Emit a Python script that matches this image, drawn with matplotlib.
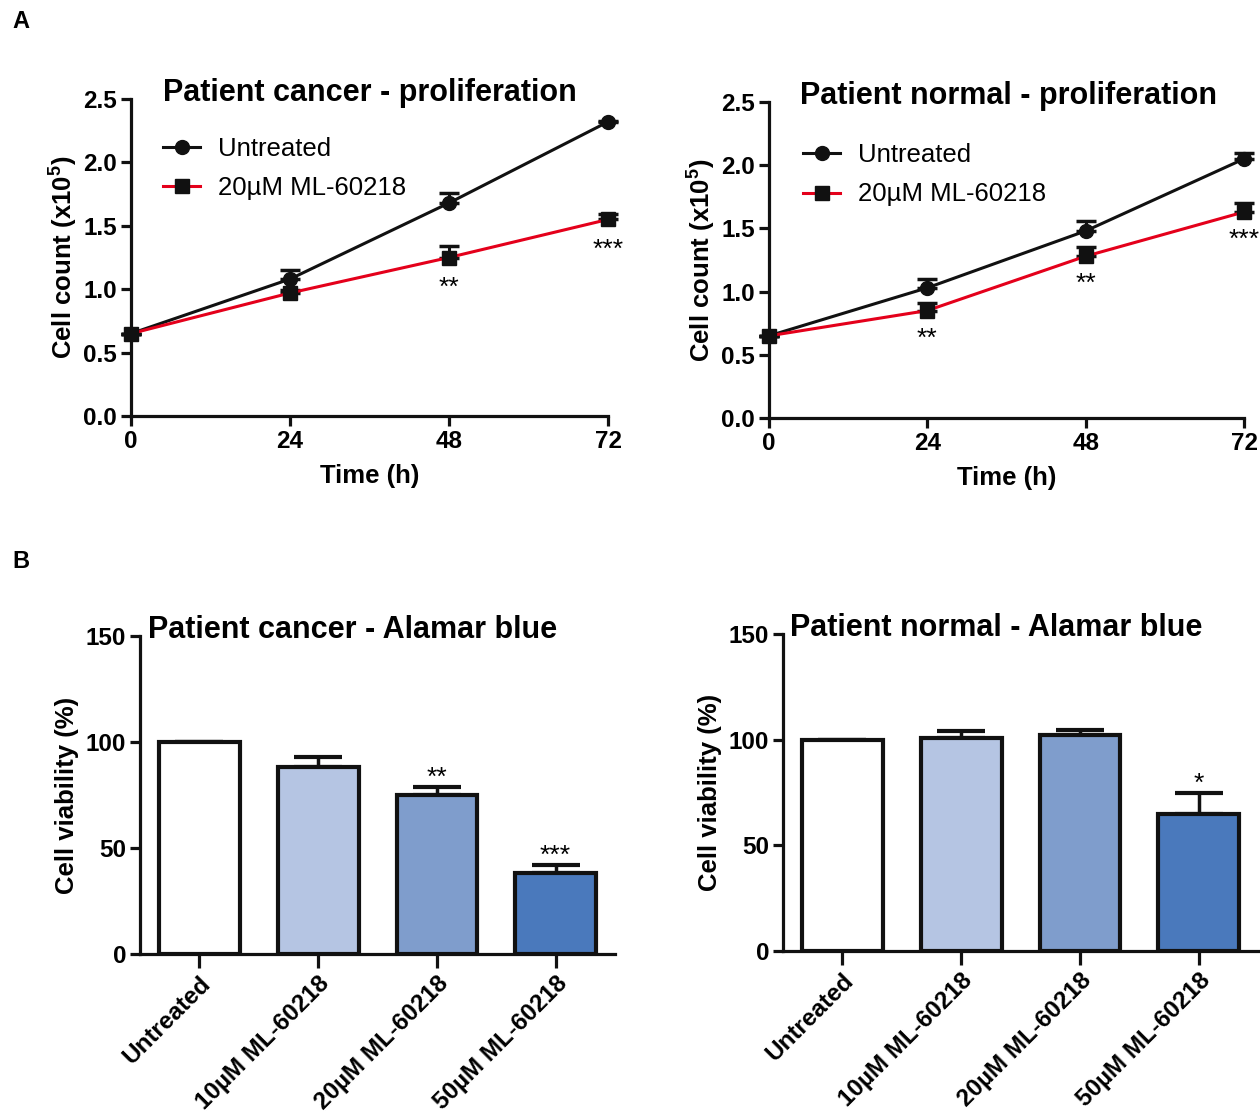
import matplotlib
matplotlib.use("Agg")
import matplotlib.pyplot as plt
from matplotlib.lines import Line2D
import numpy as np

plt.rcParams['font.family'] = ['Liberation Sans', 'DejaVu Sans']
plt.rcParams['mathtext.fontset'] = 'custom'
plt.rcParams['mathtext.rm'] = 'Liberation Sans'
plt.rcParams['mathtext.bf'] = 'Liberation Sans:bold'

# ---------------- data ----------------
time_h = [0, 24, 48, 72]
series_names = ["Untreated", "20\u00b5M ML-60218"]

cancer_untreated = [0.65, 1.08, 1.68, 2.32]
cancer_untreated_err = [0.0, 0.07, 0.08, 0.01]
cancer_treated = [0.65, 0.97, 1.25, 1.55]
cancer_treated_err = [0.0, 0.02, 0.09, 0.04]
cancer_stars = {48: "**", 72: "***"}

normal_untreated = [0.65, 1.03, 1.48, 2.05]
normal_untreated_err = [0.0, 0.07, 0.08, 0.05]
normal_treated = [0.65, 0.85, 1.28, 1.63]
normal_treated_err = [0.0, 0.06, 0.07, 0.07]
normal_stars = {24: "**", 48: "**", 72: "***"}

bar_labels = ["Untreated", "10\u00b5M ML-60218", "20\u00b5M ML-60218", "50\u00b5M ML-60218"]
cancer_viab = [100, 88, 75, 38]
cancer_viab_err = [0, 5, 4, 4]
cancer_viab_stars = ["", "", "**", "***"]
normal_viab = [100, 101, 102, 65]
normal_viab_err = [0, 3, 2.5, 10]
normal_viab_stars = ["", "", "", "*"]

bar_colors = ["#ffffff", "#b5c5e3", "#7f9dcc", "#4a79bc"]
line_colors = ["#111111", "#e4001b"]

W, H = 1260, 1113
fig = plt.figure(figsize=(W / 100, H / 100), dpi=100)

def px_axes(x0, x1, ytop, ybot):
    return fig.add_axes([x0 / W, 1 - ybot / H, (x1 - x0) / W, (ybot - ytop) / H])

def style(ax):
    for s in ['top', 'right']:
        ax.spines[s].set_visible(False)
    for s in ['left', 'bottom']:
        ax.spines[s].set_linewidth(2.3)
        ax.spines[s].set_color('#111111')
    ax.tick_params(width=2.3, length=7, color='#111111', labelsize=17.5, pad=3)
    for lab in ax.get_xticklabels() + ax.get_yticklabels():
        lab.set_fontweight('bold')

def line_panel(ax, title, unt, unt_e, trt, trt_e, stars, star_off, title_x, leg_anchor):
    ax.errorbar(time_h, unt, yerr=[np.zeros(4), unt_e], fmt='none', ecolor='#111111',
                capsize=7, capthick=2.5, elinewidth=2.2, zorder=2, clip_on=False)
    ax.plot(time_h, unt, color=line_colors[0], lw=2.2, marker='o', ms=10,
            zorder=3, clip_on=False)
    ax.errorbar(time_h, trt, yerr=[np.zeros(4), trt_e], fmt='none', ecolor='#111111',
                capsize=7, capthick=2.5, elinewidth=2.2, zorder=2, clip_on=False)
    ax.plot(time_h, trt, color=line_colors[1], lw=2.2, marker='s', ms=10,
            mfc='#111111', mec='#111111', zorder=4, clip_on=False)
    ax.set_xlim(0, 72)
    ax.set_ylim(0, 2.5)
    ax.set_xticks(time_h)
    ax.set_yticks([0.0, 0.5, 1.0, 1.5, 2.0, 2.5])
    ax.set_yticklabels(["0.0", "0.5", "1.0", "1.5", "2.0", "2.5"])
    style(ax)
    ax.set_xlabel("Time (h)", fontsize=18.5, fontweight='bold', labelpad=8)
    ax.set_ylabel(r"Cell count (x10$^{\mathbf{5}}$)", fontsize=18.5, fontweight='bold', labelpad=3)
    ax.text(title_x, 0.994, title, transform=ax.transAxes, fontsize=22, fontweight='bold',
            ha='left', va='baseline')
    for (t, s) in stars.items():
        i = time_h.index(t)
        ax.text(t, trt[i] - star_off, s, ha='center', va='center', fontsize=19, clip_on=False)
    handles = [
        Line2D([], [], color=line_colors[0], lw=2.2, marker='o', ms=10),
        Line2D([], [], color=line_colors[1], lw=2.2, marker='s', ms=10, mfc='#111111', mec='#111111'),
    ]
    ax.legend(handles, series_names, loc='upper left', bbox_to_anchor=leg_anchor,
              frameon=False, fontsize=18.5, handlelength=1.45, handletextpad=0.7,
              labelspacing=0.6, borderaxespad=0, borderpad=0)

axA1 = px_axes(131, 608, 99, 416)
line_panel(axA1, "Patient cancer - proliferation", cancer_untreated, cancer_untreated_err,
           cancer_treated, cancer_treated_err, cancer_stars, 0.24, 0.067, (0.067, 0.88))
axA2 = px_axes(769, 1244, 102, 418)
line_panel(axA2, "Patient normal - proliferation", normal_untreated, normal_untreated_err,
           normal_treated, normal_treated_err, normal_stars, 0.22, 0.065, (0.072, 0.87))

def bar_panel(ax, title, vals, errs, stars, title_x):
    x = np.arange(len(vals))
    ax.bar(x, vals, width=0.68, color=bar_colors, edgecolor='#111111', linewidth=3, zorder=2)
    ax.errorbar(x, vals, yerr=[np.zeros(len(vals)), errs], fmt='none', ecolor='#111111',
                elinewidth=2.5, capsize=17, capthick=3, zorder=1)
    for xi, v, e, s in zip(x, vals, errs, stars):
        if s:
            ax.text(xi, v + e - 1.5, s, ha='center', va='bottom', fontsize=19)
    ax.set_xlim(-0.5, 3.5)
    ax.set_ylim(0, 150)
    ax.set_yticks([0, 50, 100, 150])
    ax.set_xticks(x)
    ax.set_xticklabels(bar_labels)
    style(ax)
    ax.tick_params(axis='x', length=10, pad=3)
    for lab in ax.get_xticklabels():
        lab.set_rotation(45)
        lab.set_ha('right')
        lab.set_va('top')
        lab.set_rotation_mode('anchor')
        lab.set_fontsize(17.5)
    ax.set_ylabel("Cell viability (%)", fontsize=18.5, fontweight='bold', labelpad=5)
    ax.text(title_x, 0.994, title, transform=ax.transAxes, fontsize=22, fontweight='bold',
            ha='left', va='baseline')

axB1 = px_axes(140, 615, 636, 954)
bar_panel(axB1, "Patient cancer - Alamar blue", cancer_viab, cancer_viab_err, cancer_viab_stars, 0.017)
axB2 = px_axes(783, 1258, 634, 951)
bar_panel(axB2, "Patient normal - Alamar blue", normal_viab, normal_viab_err, normal_viab_stars, 0.015)

fig.text(12 / W, 1 - 22 / H, "A", fontsize=17, fontweight='bold', va='center', ha='left')
fig.text(12 / W, 1 - 562 / H, "B", fontsize=17, fontweight='bold', va='center', ha='left')

fig.savefig("out.png", dpi=100)
